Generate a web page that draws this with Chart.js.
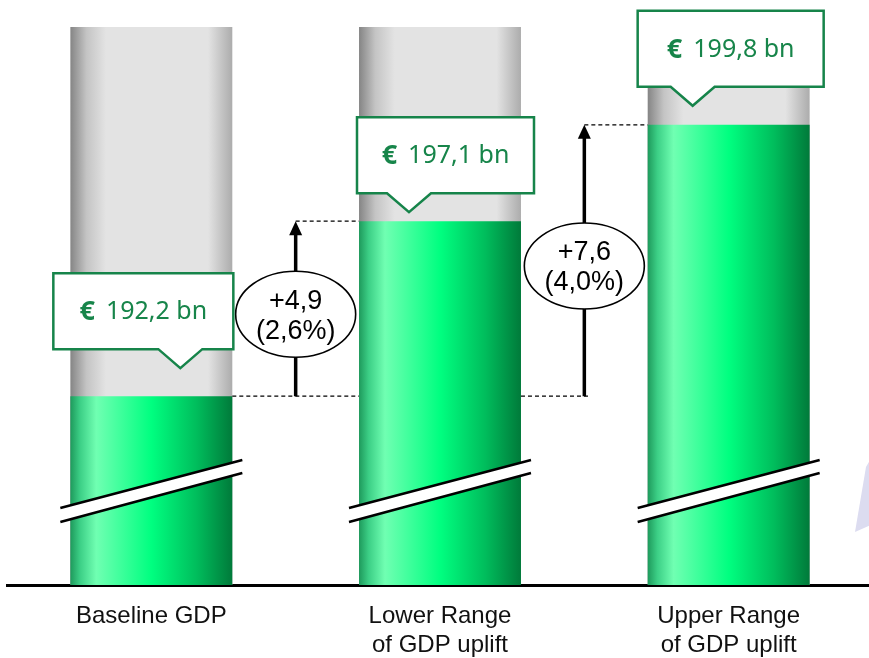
<!DOCTYPE html>
<html>
<head>
<meta charset="utf-8">
<script src="https://cdn.jsdelivr.net/npm/chart.js@4.4.1/dist/chart.umd.min.js"></script>
<style>
html, body {margin: 0; padding: 0; overflow: hidden; background: #fff;}
canvas {display: block;}
</style>
</head>
<body>
<canvas id="gdp-chart" width="873" height="658"></canvas>
<script>
// data
let categories = [["Baseline GDP"], ["Lower Range", "of GDP uplift"], ["Upper Range", "of GDP uplift"]]
let gdpValues = [192.2, 197.1, 199.8]
let valueLabels = ["192,2 bn", "197,1 bn", "199,8 bn"]
let deltaLabels = [["+4,9", "(2,6%)"], ["+7,6", "(4,0%)"]]
let axisMin = 186.91
let axisMax = 202.54

// styling
let barShare = 0.561
let greenText = "#17854a"
let greenLine = "#16844a"
let greenStops = [[0, "#1e9a5c"], [0.06, "#3ccf86"], [0.16, "#70ffb2"], [0.5, "#00ff80"], [0.78, "#00bd5c"], [1, "#007a3a"]]
let greyStops = [[0, "#858585"], [0.1, "#c4c4c4"], [0.22, "#e3e3e3"], [0.85, "#e3e3e3"], [1, "#acacac"]]
// callout shape per bar, relative to bar centre
let callouts = [
    {left: -98, right: 82, tip: 29, gap: 28},
    {left: -83, right: 94, tip: -31, gap: 9},
    {left: -91, right: 95, tip: -36, gap: 19}
]

function barGradient (chart, index, stops) {
    let xs = chart.scales.x
    if (!chart.chartArea || !xs) return stops[3][1]
    let cx = xs.getPixelForValue(index)
    let half = xs.width / categories.length * barShare / 2
    let g = chart.ctx.createLinearGradient(cx - half, 0, cx + half, 0)
    for (let [o, c] of stops) g.addColorStop(o, c)
    return g
}

function drawCallout (ctx, cx, tipY, spec, text) {
    let depth = 19, half = 22, height = 76
    let bottom = tipY - depth
    let top = bottom - height
    let left = cx + spec.left, right = cx + spec.right, tipX = cx + spec.tip
    ctx.save()
    ctx.beginPath()
    ctx.moveTo(left, top)
    ctx.lineTo(right, top)
    ctx.lineTo(right, bottom)
    ctx.lineTo(tipX + half, bottom)
    ctx.lineTo(tipX, tipY)
    ctx.lineTo(tipX - half, bottom)
    ctx.lineTo(left, bottom)
    ctx.closePath()
    ctx.fillStyle = "#fff"
    ctx.fill()
    ctx.lineWidth = 2.5
    ctx.strokeStyle = greenLine
    ctx.stroke()

    ctx.fillStyle = greenText
    ctx.textBaseline = "middle"
    ctx.textAlign = "left"
    let euroFont = "bold 27px 'Noto Sans'"
    let valFont = "25px 'Noto Sans'"
    ctx.font = euroFont
    let wEuro = ctx.measureText("€").width
    ctx.font = valFont
    let wVal = ctx.measureText(text).width
    let gap = 11
    let total = wEuro + gap + wVal
    let x0 = (left + right) / 2 - total / 2
    let ym = (top + bottom) / 2 + 1
    ctx.font = euroFont
    ctx.fillText("€", x0, ym)
    ctx.font = valFont
    ctx.fillText(text, x0 + wEuro + gap, ym)
    ctx.restore()
}

function dashed (ctx, x1, x2, y) {
    ctx.save()
    ctx.beginPath()
    ctx.setLineDash([4, 3])
    ctx.lineWidth = 1.2
    ctx.strokeStyle = "#000"
    ctx.moveTo(x1, y)
    ctx.lineTo(x2, y)
    ctx.stroke()
    ctx.restore()
}

let overlayPlugin = {
    id: "overlay",
    afterDatasetsDraw (chart) {
        let ctx = chart.ctx
        let ys = chart.scales.y
        let area = chart.chartArea
        let bars = chart.getDatasetMeta(0).data

        // axis break marks
        for (let bar of bars) {
            let xl = bar.x - 91, xr = bar.x + 91
            let b = area.bottom
            ctx.save()
            ctx.beginPath()
            ctx.moveTo(xl, b - 77)
            ctx.lineTo(xr, b - 125)
            ctx.lineTo(xr, b - 112)
            ctx.lineTo(xl, b - 63)
            ctx.closePath()
            ctx.fillStyle = "#fff"
            ctx.fill()
            ctx.lineWidth = 2.5
            ctx.strokeStyle = "#000"
            ctx.beginPath()
            ctx.moveTo(xl, b - 77)
            ctx.lineTo(xr, b - 125)
            ctx.moveTo(xl, b - 63)
            ctx.lineTo(xr, b - 112)
            ctx.stroke()
            ctx.restore()
        }

        // uplift arrows against the baseline
        let y0 = ys.getPixelForValue(gdpValues[0])
        for (let i = 1; i < bars.length; i++) {
            let prevRight = bars[i - 1].x + bars[i - 1].width / 2
            let curLeft = bars[i].x - bars[i].width / 2
            let ax = (prevRight + curLeft) / 2
            let yi = ys.getPixelForValue(gdpValues[i])
            dashed(ctx, prevRight, i === 1 ? curLeft : ax + 4, y0)
            dashed(ctx, ax, curLeft, yi)

            ctx.save()
            ctx.strokeStyle = "#000"
            ctx.fillStyle = "#000"
            ctx.lineWidth = 3.5
            ctx.beginPath()
            ctx.moveTo(ax, y0)
            ctx.lineTo(ax, yi + 12)
            ctx.stroke()
            ctx.beginPath()
            ctx.moveTo(ax, yi)
            ctx.lineTo(ax + 6.5, yi + 14)
            ctx.lineTo(ax - 6.5, yi + 14)
            ctx.closePath()
            ctx.fill()

            let ey = (y0 + yi) / 2 + 5.5
            ctx.beginPath()
            ctx.ellipse(ax, ey, 60, 43, 0, 0, Math.PI * 2)
            ctx.fillStyle = "#fff"
            ctx.fill()
            ctx.lineWidth = 1.6
            ctx.stroke()
            ctx.fillStyle = "#000"
            ctx.font = "27px 'Liberation Sans', Arial, sans-serif"
            ctx.textAlign = "center"
            ctx.textBaseline = "middle"
            ctx.fillText(deltaLabels[i - 1][0], ax, ey - 13)
            ctx.fillText(deltaLabels[i - 1][1], ax, ey + 17)
            ctx.restore()
        }

        // value callouts
        bars.forEach((bar, i) => {
            let top = ys.getPixelForValue(gdpValues[i])
            drawCallout(ctx, bar.x, top - callouts[i].gap, callouts[i], valueLabels[i])
        })

        // faint logo remnant on right edge
        ctx.save()
        ctx.beginPath()
        ctx.moveTo(873, 455)
        ctx.lineTo(866, 467)
        ctx.lineTo(855, 532)
        ctx.lineTo(873, 524)
        ctx.closePath()
        ctx.fillStyle = "#dcdcf0"
        ctx.fill()
        ctx.restore()
    }
}

new Chart("gdp-chart", {
    type: "bar",
    data: {
        labels: categories,
        datasets: [
            {
                data: gdpValues,
                order: 0,
                grouped: false,
                barPercentage: barShare,
                categoryPercentage: 1,
                backgroundColor: (c) => barGradient(c.chart, c.dataIndex, greenStops)
            },
            {
                data: gdpValues.map(() => axisMax),
                order: 1,
                grouped: false,
                barPercentage: barShare,
                categoryPercentage: 1,
                backgroundColor: (c) => barGradient(c.chart, c.dataIndex, greyStops)
            }
        ]
    },
    options: {
        responsive: false,
        animation: false,
        layout: {padding: {left: 7, right: 0, top: 27, bottom: 0}},
        plugins: {legend: {display: false}, tooltip: {enabled: false}},
        scales: {
            x: {
                grid: {display: false, drawTicks: false},
                border: {display: true, color: "#000", width: 3},
                ticks: {
                    color: "#111",
                    padding: 17,
                    maxRotation: 0,
                    autoSkip: false,
                    font: {family: "'Liberation Sans', Arial, sans-serif", size: 24, lineHeight: 1.2}
                },
                afterFit (scale) { scale.height = 73 }
            },
            y: {display: false, min: axisMin, max: axisMax}
        }
    },
    plugins: [overlayPlugin]
})
</script>
</body>
</html>
